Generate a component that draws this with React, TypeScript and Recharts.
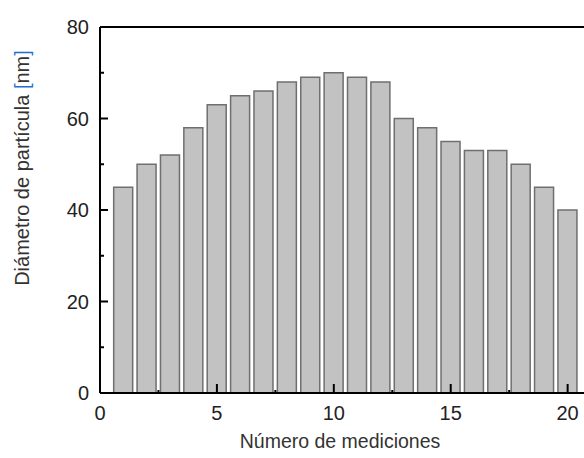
import React from 'react';
import { BarChart, Bar, XAxis, YAxis, ReferenceLine, Label } from 'recharts';

const measurements = [1, 2, 3, 4, 5, 6, 7, 8, 9, 10, 11, 12, 13, 14, 15, 16, 17, 18, 19, 20];
const diameters = [45, 50, 52, 58, 63, 65, 66, 68, 69, 70, 69, 68, 60, 58, 55, 53, 53, 50, 45, 40];
const xTicks = [0, 2.5, 5, 7.5, 10, 12.5, 15, 17.5, 20];
const yTicks = [0, 10, 20, 30, 40, 50, 60, 70, 80];

const data = measurements.map((m, i) => ({ medicion: m, diametro: diameters[i] }));

const W = 584;
const H = 458;
const PLOT_LEFT = 100;
const PLOT_TOP = 27;
const X_AXIS_H = 65;
const PLOT_BOTTOM = H - X_AXIS_H;
const FONT = '"Liberation Sans", Arial, sans-serif';

const XTick = (props: any) => {
    const { x, payload } = props;
    const major = payload.value % 5 === 0;
    return (
        <g>
            <line x1={x} x2={x} y1={PLOT_BOTTOM} y2={PLOT_BOTTOM - (major ? 9 : 3)} stroke="#000" strokeWidth={2} />
            {major && (
                <text x={x} y={PLOT_BOTTOM + 27} textAnchor="middle" fontSize={20} fill="#222" fontFamily={FONT}>
                    {payload.value}
                </text>
            )}
        </g>
    );
};

const YTick = (props: any) => {
    const { y, payload } = props;
    const major = payload.value % 20 === 0;
    return (
        <g>
            <line x1={PLOT_LEFT} x2={PLOT_LEFT + (major ? 8 : 4)} y1={y} y2={y} stroke="#000" strokeWidth={2} />
            {major && (
                <text x={PLOT_LEFT - 11} y={y + 7} textAnchor="end" fontSize={20} fill="#222" fontFamily={FONT}>
                    {payload.value}
                </text>
            )}
        </g>
    );
};

const YTitle = () => (
    <text
        x={22}
        y={168}
        transform="rotate(-90, 22, 168)"
        textAnchor="middle"
        dominantBaseline="central"
        fontSize={20}
        fill="#333"
        fontFamily={FONT}
    >
        Diámetro de partícula <tspan fill="#1f6fd1">[</tspan>nm<tspan fill="#1f6fd1">]</tspan>
    </text>
);

const XTitle = () => (
    <text x={340} y={448} textAnchor="middle" fontSize={19.5} fill="#333" fontFamily={FONT}>
        Número de mediciones
    </text>
);

export default function App() {
    return (
        <div style={{ position: 'fixed', left: 0, top: 0, width: W, height: H, background: '#fff' }}>
            <BarChart
                width={W}
                height={H}
                data={data}
                margin={{ top: PLOT_TOP, right: 0, left: 0, bottom: 0 }}
            >
                <XAxis
                    dataKey="medicion"
                    type="number"
                    domain={[0, 20.7]}
                    ticks={xTicks}
                    allowDataOverflow
                    interval={0}
                    height={X_AXIS_H}
                    tickLine={false}
                    tick={<XTick />}
                    axisLine={{ stroke: '#000', strokeWidth: 2 }}
                >
                    <Label content={<XTitle />} />
                </XAxis>
                <YAxis
                    type="number"
                    domain={[0, 80]}
                    ticks={yTicks}
                    interval={0}
                    width={PLOT_LEFT}
                    tickLine={false}
                    tick={<YTick />}
                    axisLine={{ stroke: '#000', strokeWidth: 2 }}
                >
                    <Label content={<YTitle />} />
                </YAxis>
                <ReferenceLine y={80} stroke="#000" strokeWidth={2} />
                <Bar
                    dataKey="diametro"
                    barSize={19}
                    fill="#c2c2c2"
                    stroke="#6f6f6f"
                    strokeWidth={1.5}
                    isAnimationActive={false}
                />
            </BarChart>
        </div>
    );
}
